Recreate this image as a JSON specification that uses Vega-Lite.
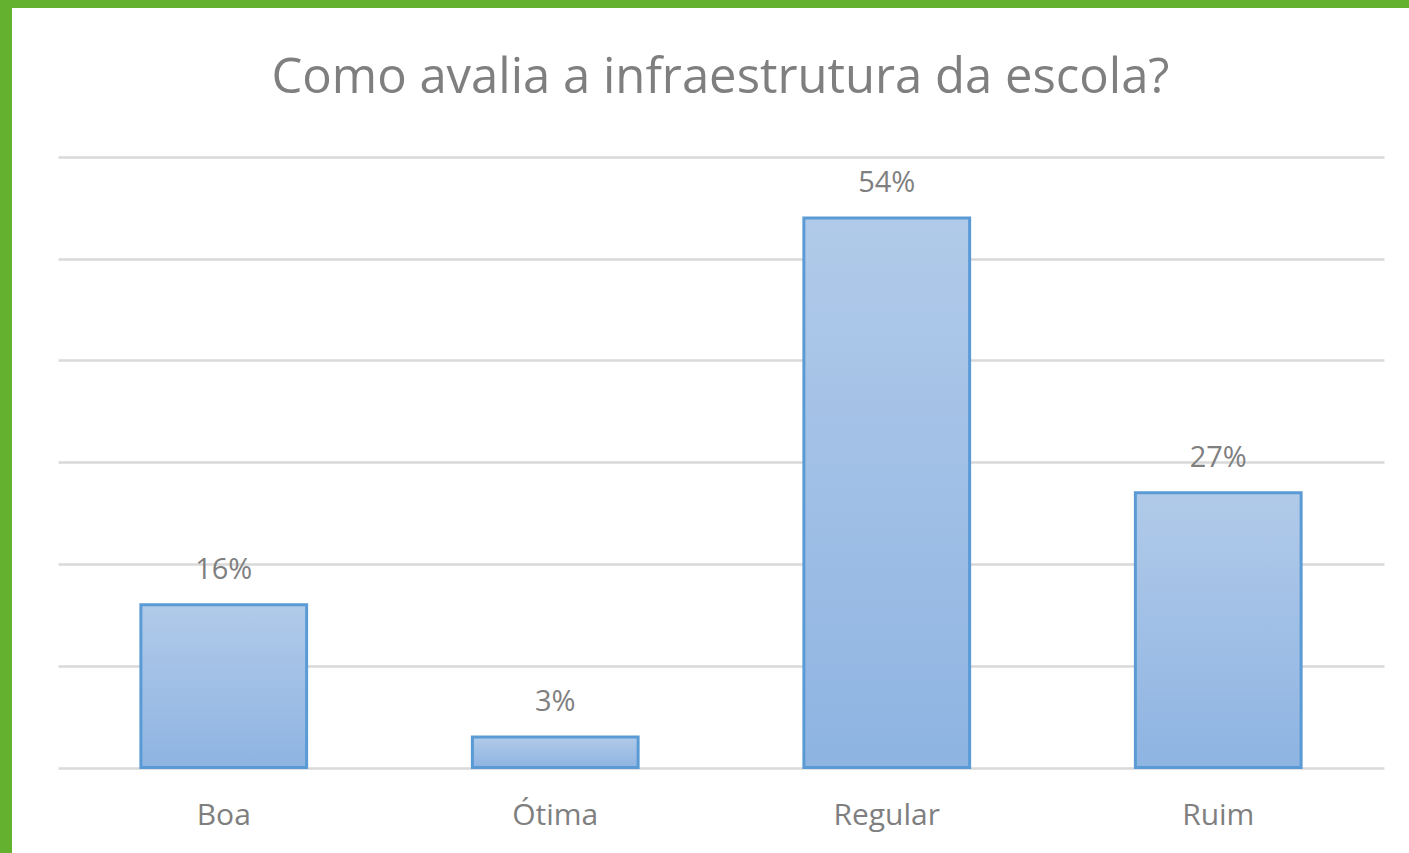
{
  "$schema": "https://vega.github.io/schema/vega-lite/v6.json",
  "autosize": {"type": "none"},
  "padding": {"top": 8, "left": 12, "right": 0, "bottom": 0},
  "width": 1397,
  "height": 845,
  "background": "#63b12f",
  "config": {
    "view": {"fill": "white", "stroke": null},
    "font": "Open Sans"
  },
  "title": {
    "text": "Como avalia a infraestrutura da escola?",
    "fontSize": 49,
    "fontWeight": "normal",
    "color": "#7f7f7f",
    "font": "Open Sans",
    "baseline": "alphabetic",
    "offset": -134,
    "dx": 10
  },
  "data": {
    "values": [
      {"categoria": "Boa", "valor": 0.16},
      {"categoria": "Ótima", "valor": 0.03},
      {"categoria": "Regular", "valor": 0.54},
      {"categoria": "Ruim", "valor": 0.27}
    ]
  },
  "encoding": {
    "x": {
      "field": "categoria",
      "type": "nominal",
      "sort": null,
      "scale": {"range": [46, 1372], "paddingInner": 0.5, "paddingOuter": 0.25},
      "axis": {
        "title": null,
        "orient": "bottom",
        "offset": -85.5,
        "domain": false,
        "ticks": false,
        "labelAngle": 0,
        "labelFontSize": 30,
        "labelColor": "#7f7f7f",
        "labelFont": "Open Sans",
        "labelBaseline": "alphabetic",
        "labelPadding": 57
      }
    },
    "y": {
      "field": "valor",
      "type": "quantitative",
      "scale": {"domain": [-0.084, 0.7464], "nice": false, "zero": false},
      "axis": {
        "title": null,
        "values": [0, 0.1, 0.2, 0.3, 0.4, 0.5, 0.6],
        "labels": false,
        "ticks": false,
        "domain": false,
        "grid": true,
        "gridColor": "#d9d9d9",
        "gridWidth": 2.5
      }
    }
  },
  "layer": [
    {
      "mark": {
        "type": "bar",
        "stroke": "#5b9bd5",
        "strokeWidth": 3,
        "color": {
          "gradient": "linear",
          "x1": 0, "y1": 0, "x2": 0, "y2": 1,
          "stops": [
            {"offset": 0, "color": "#b1cae9"},
            {"offset": 1, "color": "#8eb4e2"}
          ]
        }
      },
      "encoding": {"y2": {"datum": 0}}
    },
    {
      "mark": {
        "type": "text",
        "baseline": "alphabetic",
        "dy": -26,
        "fontSize": 29,
        "color": "#7f7f7f",
        "font": "Open Sans"
      },
      "encoding": {
        "text": {"field": "valor", "type": "quantitative", "format": ".0%"}
      }
    }
  ]
}
